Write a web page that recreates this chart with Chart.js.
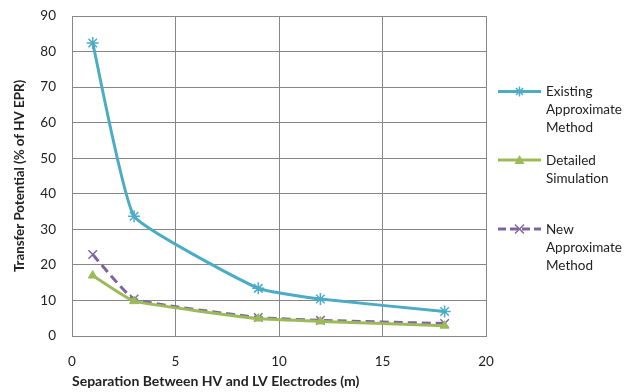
<!DOCTYPE html>
<html><head><meta charset="utf-8">
<script src="https://cdn.jsdelivr.net/npm/chart.js@4/dist/chart.umd.min.js"></script>
<style>
html,body{margin:0;padding:0;background:#fff;}
#wrap{position:relative;width:634px;height:392px;}
canvas{position:absolute;left:0;top:0;}
.lg{position:absolute;left:546px;font-family:Lato,"Open Sans",sans-serif;font-size:13.5px;color:#222;line-height:18px;white-space:nowrap;}
svg{position:absolute;left:0;top:0;}
</style></head>
<body>
<div id="wrap">
<canvas id="c" width="634" height="392"></canvas>
<svg width="634" height="392" id="lgsvg"></svg>
<div class="lg" style="top:82px">Existing<br>Approximate<br>Method</div>
<div class="lg" style="top:151px">Detailed<br>Simulation</div>
<div class="lg" style="top:220px">New<br>Approximate<br>Method</div>
</div>
<script>
const separation = [1, 3, 9, 12, 18];
const existingApprox = [82.4, 33.7, 13.4, 10.4, 6.9];
const detailedSim = [17.0, 9.8, 4.9, 4.1, 2.9];
const newApprox = [22.9, 10.4, 5.2, 4.4, 3.5];
const seriesNames = ['Existing Approximate Method', 'Detailed Simulation', 'New Approximate Method'];
const xTicks = [0, 5, 10, 15, 20];
const yTicks = [0, 10, 20, 30, 40, 50, 60, 70, 80, 90];

const blue = '#4BACC6', green = '#9BBB59', purple = '#8064A2';
const pts = arr => separation.map((x, i) => ({x, y: arr[i]}));

new Chart(document.getElementById('c'), {
  type: 'scatter',
  data: {
    datasets: [
      {label: seriesNames[0], data: pts(existingApprox), showLine: true, borderColor: blue, backgroundColor: blue,
       borderWidth: 3, tension: 0.12, pointStyle: 'star', pointRadius: 6, pointBorderWidth: 1.5, pointBorderColor: blue},
      {label: seriesNames[1], data: pts(detailedSim), showLine: true, borderColor: green, backgroundColor: green,
       borderWidth: 3, tension: 0.12, pointStyle: 'triangle', pointRadius: 5, pointBorderWidth: 1, pointBorderColor: green},
      {label: seriesNames[2], data: pts(newApprox), showLine: true, borderColor: purple, backgroundColor: purple,
       borderWidth: 3, borderDash: [9, 5], tension: 0.12, pointStyle: 'crossRot', pointRadius: 6, pointBorderWidth: 1.5, pointBorderColor: purple}
    ]
  },
  options: {
    responsive: false, animation: false,
    layout: {padding: {left: 5, right: 148, top: 16, bottom: 0}},
    plugins: {legend: {display: false}, tooltip: {enabled: false}},
    scales: {
      x: {type: 'linear', min: 0, max: 20,
          afterBuildTicks: s => { s.ticks = xTicks.map(v => ({value: v})); },
          afterFit: s => { s.height = 56; },
          grid: {color: '#878787', lineWidth: 1, drawTicks: false},
          border: {color: '#878787'},
          ticks: {color: '#222', padding: 18, font: {family: 'Lato', size: 13.5}, maxRotation: 0},
          title: {display: true, align: 'start', text: 'Separation Between HV and LV Electrodes (m)', color: '#222',
                  font: {family: 'Lato', size: 14, weight: 'bold'}, padding: {top: 2, bottom: 2}}},
      y: {type: 'linear', min: 0, max: 90,
          afterBuildTicks: s => { s.ticks = yTicks.map(v => ({value: v})); },
          afterFit: s => { s.width = 67; s.paddingTop = 0; },
          grid: {color: '#878787', lineWidth: 1, drawTicks: false},
          border: {color: '#878787'},
          ticks: {color: '#222', padding: 16, font: {family: 'Lato', size: 13.5}},
          title: {display: true, text: 'Transfer Potential (% of HV EPR)', color: '#222',
                  font: {family: 'Lato', size: 13.3, weight: 'bold'}, padding: {top: 7, bottom: 0}}}
    }
  }
});

// legend samples
const svg = document.getElementById('lgsvg');
function add(tag, attrs){const e=document.createElementNS('http://www.w3.org/2000/svg',tag);for(const k in attrs)e.setAttribute(k,attrs[k]);svg.appendChild(e);}
const lx1 = 498, lx2 = 541, mx = 519.5;
add('line',{x1:lx1,y1:91.5,x2:lx2,y2:91.5,stroke:blue,'stroke-width':3});
[[0,1],[1,0],[0.7,0.7],[0.7,-0.7]].forEach(([a,b])=>add('line',{x1:mx-a*5,y1:91.5-b*5,x2:mx+a*5,y2:91.5+b*5,stroke:blue,'stroke-width':1.5}));
add('line',{x1:lx1,y1:160,x2:lx2,y2:160,stroke:green,'stroke-width':3});
add('polygon',{points:`${mx-5},164 ${mx+5},164 ${mx},155`,fill:green});
add('line',{x1:lx1,y1:229,x2:lx2,y2:229,stroke:purple,'stroke-width':3,'stroke-dasharray':'8 4'});
add('line',{x1:mx-4.5,y1:224.5,x2:mx+4.5,y2:233.5,stroke:purple,'stroke-width':1.5});
add('line',{x1:mx-4.5,y1:233.5,x2:mx+4.5,y2:224.5,stroke:purple,'stroke-width':1.5});
</script>
</body></html>
